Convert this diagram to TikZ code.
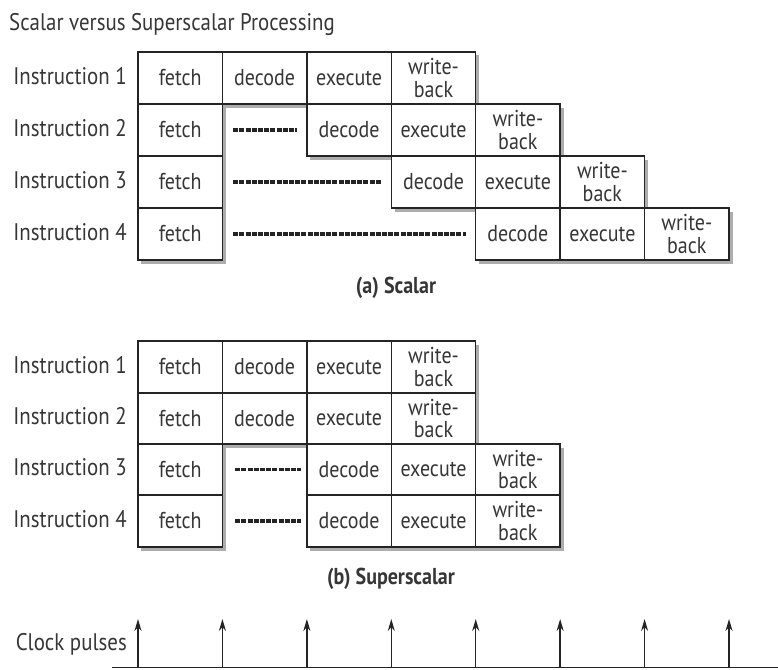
\documentclass[tikz,border=0pt]{standalone}
\usepackage{fontspec}
\setmainfont{PT Sans}[FakeStretch=0.87]
\usetikzlibrary{shadows,arrows.meta}
\definecolor{ink}{HTML}{363636}
\definecolor{edge}{HTML}{242424}
\tikzset{
  txt/.style={text=ink,font=\fontsize{24}{20}\selectfont,inner sep=0pt},
  subcaption/.style={text=ink,font=\fontsize{23}{20}\selectfont\bfseries,inner sep=0pt},
  cell/.style={draw=edge,line width=1.4pt,fill=white,minimum width=84.43pt,
    minimum height=#1,inner sep=0pt,align=center,text=ink,
    font=\fontsize{23}{22.5}\selectfont,
    drop shadow={shadow xshift=3.5pt,shadow yshift=-3.5pt,fill=black!32,opacity=1}},
  cell/.default=52pt,
  waitline/.style={draw=edge,line width=3.2pt,dash pattern=on 5pt off 1.2pt},
  pulse/.style={draw=edge,line width=1.4pt,-{Stealth[length=12pt,width=7pt]}},
}
\begin{document}
\begin{tikzpicture}[x=1pt,y=-1pt]
\useasboundingbox (0,0) rectangle (778,669);

% title
\node[txt,anchor=base west] (title) at (9,31) {Scalar versus Superscalar Processing};

% ---------- (a) scalar pipeline ----------
\foreach \r/\y in {1/78,2/130,3/182,4/234}
  \node[txt,anchor=base east] (al\r) at (127,\y+6) {Instruction \r};

\node[cell] (af1) at (180.2,78) {fetch};
\node[cell] (ad1) at (264.6,78) {decode};
\node[cell] (ae1) at (349.1,78) {execute};
\node[cell] (aw1) at (433.5,78) {write-\\back};

\node[cell] (af2) at (180.2,130) {fetch};
\node[cell] (ad2) at (349.1,130) {decode};
\node[cell] (ae2) at (433.5,130) {execute};
\node[cell] (aw2) at (517.9,130) {write-\\back};

\node[cell] (af3) at (180.2,182) {fetch};
\node[cell] (ad3) at (433.5,182) {decode};
\node[cell] (ae3) at (517.9,182) {execute};
\node[cell] (aw3) at (602.4,182) {write-\\back};

\node[cell] (af4) at (180.2,234) {fetch};
\node[cell] (ad4) at (517.9,234) {decode};
\node[cell] (ae4) at (602.4,234) {execute};
\node[cell] (aw4) at (686.8,234) {write-\\back};

\foreach \r in {2,3,4}
  \draw[waitline] ([xshift=10pt]af\r.east) -- ([xshift=-9pt]ad\r.west);

\node[subcaption] (acap) at (396,288) {(a) Scalar};

% ---------- (b) superscalar pipeline ----------
\foreach \r/\y in {1/367,2/418.5,3/469.5,4/521}
  \node[txt,anchor=base east] (bl\r) at (127,\y+6) {Instruction \r};

\node[cell=52pt] (bf1) at (180.2,367) {fetch};
\node[cell=52pt] (bd1) at (264.6,367) {decode};
\node[cell=52pt] (be1) at (349.1,367) {execute};
\node[cell=52pt] (bw1) at (433.5,367) {write-\\back};

\node[cell=51pt] (bf2) at (180.2,418.5) {fetch};
\node[cell=51pt] (bd2) at (264.6,418.5) {decode};
\node[cell=51pt] (be2) at (349.1,418.5) {execute};
\node[cell=51pt] (bw2) at (433.5,418.5) {write-\\back};

\node[cell=51pt] (bf3) at (180.2,469.5) {fetch};
\node[cell=51pt] (bd3) at (349.1,469.5) {decode};
\node[cell=51pt] (be3) at (433.5,469.5) {execute};
\node[cell=51pt] (bw3) at (517.9,469.5) {write-\\back};

\node[cell=52pt] (bf4) at (180.2,521) {fetch};
\node[cell=52pt] (bd4) at (349.1,521) {decode};
\node[cell=52pt] (be4) at (433.5,521) {execute};
\node[cell=52pt] (bw4) at (517.9,521) {write-\\back};

\foreach \r in {3,4}
  \draw[waitline] ([xshift=12pt]bf\r.east) -- ([xshift=-5pt]bd\r.west);

\node[subcaption] (bcap) at (391,579) {(b) Superscalar};

% ---------- clock ----------
\node[txt,anchor=base east] (clk) at (127,650) {Clock pulses};
\coordinate (t0) at (112,667.5);
\coordinate (t1) at (778,667.5);
\draw[draw=edge,line width=1.3pt] (t0) -- (t1);
\foreach \i in {0,...,7}{
  \coordinate (pb\i) at (138+84.43*\i,667.5);
  \coordinate (pt\i) at (138+84.43*\i,619);
  \draw[pulse] (pb\i) -- (pt\i);
}
\end{tikzpicture}
\end{document}
